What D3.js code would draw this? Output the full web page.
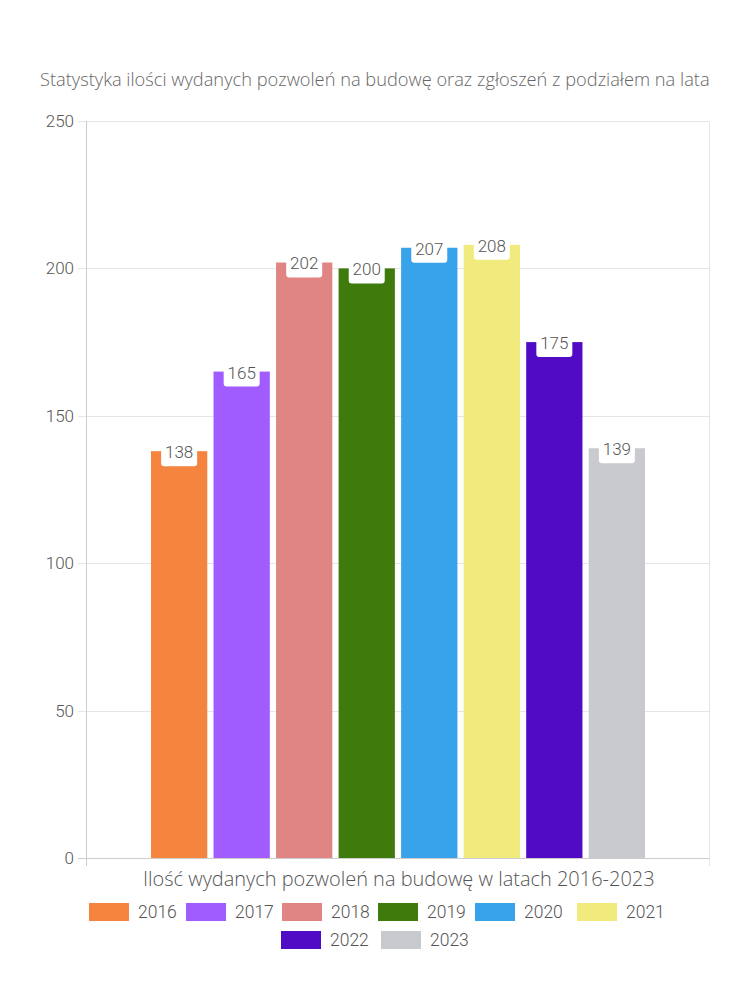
<!DOCTYPE html>
<html>
<head>
<meta charset="utf-8">
<script src="https://cdn.jsdelivr.net/npm/d3@7"></script>
<style>
  html, body { margin: 0; padding: 0; background: #fff; }
  svg { display: block; }
</style>
</head>
<body>
<svg id="chart" width="750" height="1000"></svg>
<script>
const title = "Statystyka ilości wydanych pozwoleń na budowę oraz zgłoszeń z podziałem na lata";
const categoryLabel = "Ilość wydanych pozwoleń na budowę w latach 2016-2023";
const years = ["2016", "2017", "2018", "2019", "2020", "2021", "2022", "2023"];
const values = [138, 165, 202, 200, 207, 208, 175, 139];
const colors = ["#f5843f", "#a05cff", "#e08484", "#3e7b0c", "#38a2eb", "#f0eb7c", "#520bc4", "#c9cace"];
const yTicks = [0, 50, 100, 150, 200, 250];

const svg = d3.select("#chart");
const plot = { left: 86, right: 710, top: 121, bottom: 858 };
const titleFont = "'Open Sans', 'Noto Sans', sans-serif";
const numFont = "Roboto, 'Noto Sans', sans-serif";

const y = d3.scaleLinear().domain([0, 250]).range([plot.bottom, plot.top]);
const x = d3.scaleBand().domain(years).range([151, 645]).paddingInner(0.1).paddingOuter(0);

function fitText(sel, width) {
  const fs = +sel.attr("font-size");
  const w = sel.node().getComputedTextLength();
  sel.attr("font-size", fs * width / w);
}

// Title
const t = svg.append("text")
  .attr("x", 40).attr("y", 86)
  .attr("font-family", titleFont).attr("font-size", 16).attr("font-weight", 300)
  .attr("fill", "#666").text(title);
fitText(t, 670);

// gridlines
svg.append("g").selectAll("line").data(yTicks).join("line")
  .attr("x1", 78).attr("x2", plot.right)
  .attr("y1", d => Math.round(y(d)) + 0.5).attr("y2", d => Math.round(y(d)) + 0.5)
  .attr("stroke", d => d === 0 ? "#ccc" : "#e6e6e6").attr("stroke-width", 1);

// left & right border
svg.append("line").attr("x1", plot.left + 0.5).attr("x2", plot.left + 0.5)
  .attr("y1", plot.top).attr("y2", plot.bottom + 8).attr("stroke", "#ccc");
svg.append("line").attr("x1", plot.right - 0.5).attr("x2", plot.right - 0.5)
  .attr("y1", plot.top).attr("y2", plot.bottom + 8).attr("stroke", "#e6e6e6");

// y labels
svg.append("g").selectAll("text").data(yTicks).join("text")
  .attr("x", 74).attr("y", d => y(d))
  .attr("dy", "0.35em").attr("text-anchor", "end")
  .attr("font-family", numFont).attr("font-size", 17).attr("font-weight", 300).attr("fill", "#555")
  .text(d => d);

// bars
svg.append("g").selectAll("rect").data(years).join("rect")
  .attr("x", d => x(d)).attr("width", x.bandwidth())
  .attr("y", (d, i) => y(values[i])).attr("height", (d, i) => y(0) - y(values[i]))
  .attr("fill", (d, i) => colors[i]);

// data labels
const lbl = svg.append("g").selectAll("g").data(years).join("g")
  .attr("transform", (d, i) => `translate(${x(d) + x.bandwidth() / 2},${y(values[i])})`);
lbl.append("rect")
  .attr("x", -18).attr("y", -9).attr("width", 36).attr("height", 24)
  .attr("rx", 3).attr("fill", "#fff");
lbl.append("text")
  .attr("y", 1).attr("dy", "0.35em").attr("text-anchor", "middle")
  .attr("font-family", numFont).attr("font-size", 17).attr("font-weight", 300).attr("fill", "#555")
  .text((d, i) => values[i]);

// category label
const cl = svg.append("text").attr("x", 143).attr("y", 886)
  .attr("font-family", titleFont).attr("font-size", 17.5).attr("font-weight", 300).attr("fill", "#555")
  .text(categoryLabel);
fitText(cl, 512);

// legend
const legendPos = [
  { x: 89, y: 912 }, { x: 186, y: 912 }, { x: 282, y: 912 }, { x: 378, y: 912 },
  { x: 475, y: 912 }, { x: 577, y: 912 }, { x: 281, y: 940 }, { x: 381, y: 940 }
];
const lg = svg.append("g").selectAll("g").data(years).join("g")
  .attr("transform", (d, i) => `translate(${legendPos[i].x},${legendPos[i].y})`);
lg.append("rect").attr("x", 0).attr("y", -9).attr("width", 40).attr("height", 18)
  .attr("fill", (d, i) => colors[i]);
lg.append("text").attr("x", 49).attr("dy", "0.35em")
  .attr("font-family", numFont).attr("font-size", 17.5).attr("font-weight", 300).attr("fill", "#555")
  .text(d => d);
</script>
</body>
</html>
